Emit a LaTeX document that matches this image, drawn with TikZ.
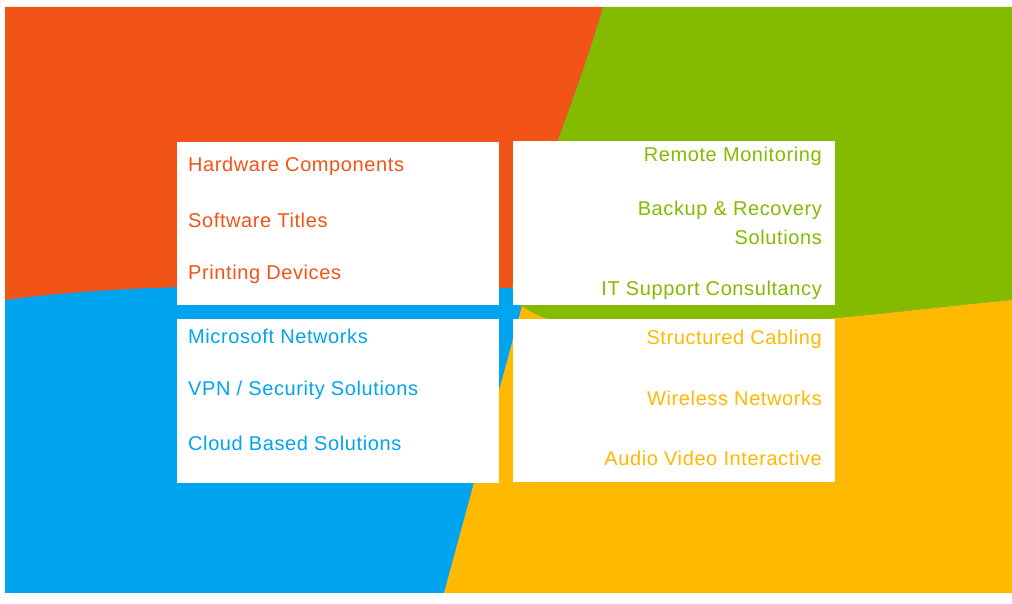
\documentclass[tikz,border=0pt]{standalone}
\usepackage{fontspec}
\setmainfont[LetterSpace=3]{Liberation Sans}
\definecolor{cor}{HTML}{F25417}
\definecolor{cgr}{HTML}{84BB00}
\definecolor{cbl}{HTML}{00A4EF}
\definecolor{cye}{HTML}{FFB900}
\begin{document}
\begin{tikzpicture}[x=1pt,y=-1pt,
  box/.style={fill=white,draw=none},
  lt/.style={anchor=west,font=\fontsize{20}{24}\selectfont,inner sep=0pt},
  rt/.style={anchor=east,font=\fontsize{20}{24}\selectfont,inner sep=0pt,align=right}]
\useasboundingbox (0,0) rectangle (1012,604);
\fill[white] (0,0) rectangle (1012,604);
% quadrants
\fill[cbl] (5,7) rectangle (1012,593);
\fill[cor] (5,7) -- (603,7) .. controls (570,120) and (530,200) .. (512,288)
  .. controls (340,286) and (150,280) .. (5,300) -- cycle;
\fill[cgr] (603,7) -- (1012,7) -- (1012,300) .. controls (900,310) and (700,340) .. (560,322)
  .. controls (540,318) and (530,312) .. (520,306) -- (512,288)
  .. controls (530,200) and (570,120) .. (603,7) -- cycle;
\fill[cye] (522,306) .. controls (530,312) and (540,318) .. (560,322)
  .. controls (700,340) and (900,310) .. (1012,300) -- (1012,593) -- (444,593) -- cycle;
% boxes
\fill[box] (177,142) rectangle (499,305);
\fill[box] (513,141) rectangle (835,305);
\fill[box] (177,319) rectangle (499,483);
\fill[box] (513,319) rectangle (835,482);
% texts
\node[lt,text=cor] (a1) at (188,166) {Hardware Components};
\node[lt,text=cor] (a2) at (188,220) {Software Titles};
\node[lt,text=cor] (a3) at (188,274) {Printing Devices};
\node[lt,text=cbl] (c1) at (188,336) {Microsoft Networks};
\node[lt,text=cbl] (c2) at (188,390) {VPN / Security Solutions};
\node[lt,text=cbl] (c3) at (188,443) {Cloud Based Solutions};
\node[rt,text=cgr] (b1) at (822,156) {Remote Monitoring};
\node[rt,text=cgr] (b2) at (822,210) {Backup \& Recovery};
\node[rt,text=cgr] (b3) at (822,237) {Solutions};
\node[rt,text=cgr] (b4) at (822,290) {IT Support Consultancy};
\node[rt,text=cye] (d1) at (822,339) {Structured Cabling};
\node[rt,text=cye] (d2) at (822,398) {Wireless Networks};
\node[rt,text=cye] (d3) at (822,458) {Audio Video Interactive};
\end{tikzpicture}
\end{document}
